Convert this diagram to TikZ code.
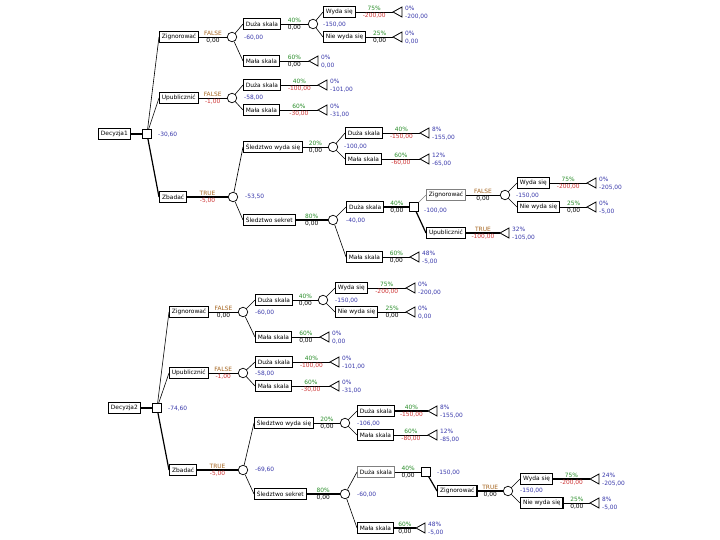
\documentclass[tikz,border=0pt]{standalone}
\usepackage{fontspec}
\newfontfamily\treefont{DejaVu Sans}
\definecolor{pgreen}{RGB}{40,140,40}
\definecolor{pred}{RGB}{205,50,50}
\definecolor{pbrown}{RGB}{165,100,30}
\definecolor{pblue}{RGB}{55,55,170}
\tikzset{
 f/.style={font=\treefont\fontsize{5.9}{7}\selectfont, inner sep=1pt},
 box/.style={f, draw, line width=.7pt, anchor=west, inner xsep=2.5pt, minimum height=10.5pt, fill=white},
 obox/.style={box, line width=1.2pt},
 gbox/.style={box, draw=gray},
 chance/.style={circle, draw, line width=.7pt, minimum size=9.5pt, inner sep=0pt, fill=white},
 dec/.style={rectangle, draw, line width=.8pt, minimum size=8.5pt, inner sep=0pt, fill=white},
 pc/.style={f, text=pgreen},
 neg/.style={f, text=pred},
 zer/.style={f, text=black},
 tf/.style={f, text=pbrown},
 ev/.style={f, text=pblue},
 evl/.style={ev, anchor=west},
 ln/.style={line width=.6pt},
 oln/.style={line width=1.2pt},
 gln/.style={line width=.45pt, gray},
 tri/.style={line width=.8pt},
}
\newcommand\brline[7]{\draw[#1] (#2) -- node[midway,above,#4] (#2-#3-a) {#5} node[midway,below,#6] (#2-#3-b) {#7} (#3);}
\newcommand\tmnode[5]{%
 \coordinate (#1) at (#2,#3);
 \draw[tri] (#1) -- ++(9,-5) -- ++(0,10) -- cycle;
 \node[ev,anchor=south west] (#1-a) at ([xshift=11pt,yshift=0.5pt]#1) {#4};
 \node[ev,anchor=north west] (#1-b) at ([xshift=11pt,yshift=-0.5pt]#1) {#5};}
\begin{document}
\begin{tikzpicture}[x=1pt,y=-1pt]
\useasboundingbox (0,0) rectangle (720,540);

% ================= TOP TREE =================
\node[box] (D1) at (98,134) {Decyzja1};
\node[dec] (S1) at (147,134) {};
\draw[oln] (D1) -- (S1);
\node[evl] (S1-v) at (157,135) {-30,60};

% Zignorowac
\node[box] (A) at (159,37) {Zignorować};
\draw[ln] (S1) -- (A.west);
\node[chance] (C1) at (232,37) {};
\brline{ln}{A}{C1}{tf}{FALSE}{zer}{0,00}
\node[evl] (C1-v) at (243,38) {-60,00};
\node[box] (A1) at (243,24) {Duża skala};
\node[box] (A2) at (243,61) {Mała skala};
\draw[ln] (C1) -- (A1.west);
\draw[ln] (C1) -- (A2.west);
\node[chance] (C2) at (313,24) {};
\brline{ln}{A1}{C2}{pc}{40\%}{zer}{0,00}
\node[evl] (C2-v) at (322,25) {-150,00};
\node[box] (A1a) at (323,12) {Wyda się};
\node[box] (A1b) at (323,37) {Nie wyda się};
\draw[ln] (C2) -- (A1a.west);
\draw[ln] (C2) -- (A1b.west);
\tmnode{T1}{393}{12}{0\%}{-200,00}
\brline{ln}{A1a}{T1}{pc}{75\%}{neg}{-200,00}
\tmnode{T2}{393}{37}{0\%}{0,00}
\brline{ln}{A1b}{T2}{pc}{25\%}{zer}{0,00}
\tmnode{T3}{309}{61}{0\%}{0,00}
\brline{ln}{A2}{T3}{pc}{60\%}{zer}{0,00}

% Upublicznic
\node[box] (B) at (159,98) {Upublicznić};
\draw[ln] (S1) -- (B.west);
\node[chance] (C3) at (232,98) {};
\brline{ln}{B}{C3}{tf}{FALSE}{neg}{-1,00}
\node[evl] (C3-v) at (243,98) {-58,00};
\node[box] (B1) at (243,85) {Duża skala};
\node[box] (B2) at (243,110) {Mała skala};
\draw[ln] (C3) -- (B1.west);
\draw[ln] (C3) -- (B2.west);
\tmnode{T4}{318}{85}{0\%}{-101,00}
\brline{ln}{B1}{T4}{pc}{40\%}{neg}{-100,00}
\tmnode{T5}{318}{110}{0\%}{-31,00}
\brline{ln}{B2}{T5}{pc}{60\%}{neg}{-30,00}

% Zbadac
\node[obox] (Z) at (159,197) {Zbadać};
\draw[oln] (S1) -- (Z.west);
\node[chance] (C4) at (233,197) {};
\brline{oln}{Z}{C4}{tf}{TRUE}{neg}{-5,00}
\node[evl] (C4-v) at (244,197) {-53,50};
\node[box] (Z1) at (243,147) {Śledztwo wyda się};
\node[box] (Z2) at (243,220) {Śledztwo sekret};
\draw[ln] (C4) -- (Z1.west);
\draw[ln] (C4) -- (Z2.west);

\node[chance] (C5) at (333,147) {};
\brline{ln}{Z1}{C5}{pc}{20\%}{zer}{0,00}
\node[evl] (C5-v) at (343,147) {-100,00};
\node[box] (Z1a) at (345,133) {Duża skala};
\node[box] (Z1b) at (345,159) {Mała skala};
\draw[ln] (C5) -- (Z1a.west);
\draw[ln] (C5) -- (Z1b.west);
\tmnode{T6}{420}{133}{8\%}{-155,00}
\brline{ln}{Z1a}{T6}{pc}{40\%}{neg}{-150,00}
\tmnode{T7}{420}{159}{12\%}{-65,00}
\brline{ln}{Z1b}{T7}{pc}{60\%}{neg}{-60,00}

\node[chance] (C6) at (333,220) {};
\brline{oln}{Z2}{C6}{pc}{80\%}{zer}{0,00}
\node[evl] (C6-v) at (345,221) {-40,00};
\node[obox] (Z2a) at (346,207) {Duża skala};
\node[box] (Z2b) at (346,257) {Mała skala};
\draw[ln] (C6) -- (Z2a.west);
\draw[ln] (C6) -- (Z2b.west);
\node[dec] (S2) at (414,207) {};
\brline{oln}{Z2a}{S2}{pc}{40\%}{zer}{0,00}
\node[evl] (S2-v) at (423,211) {-100,00};
\node[gbox] (Z2a1) at (426,195) {Zignorować};
\node[obox] (Z2a2) at (426,233) {Upublicznić};
\draw[gln] (S2) -- (Z2a1.west);
\draw[oln] (S2) -- (Z2a2.west);
\node[chance] (C7) at (505,195) {};
\brline{ln}{Z2a1}{C7}{tf}{FALSE}{zer}{0,00}
\node[evl] (C7-v) at (515,196) {-150,00};
\node[box] (Z2a1a) at (517,183) {Wyda się};
\node[box] (Z2a1b) at (517,207) {Nie wyda się};
\draw[ln] (C7) -- (Z2a1a.west);
\draw[ln] (C7) -- (Z2a1b.west);
\tmnode{T8}{587}{183}{0\%}{-205,00}
\brline{ln}{Z2a1a}{T8}{pc}{75\%}{neg}{-200,00}
\tmnode{T9}{587}{207}{0\%}{-5,00}
\brline{ln}{Z2a1b}{T9}{pc}{25\%}{zer}{0,00}
\tmnode{T10}{500}{233}{32\%}{-105,00}
\brline{oln}{Z2a2}{T10}{tf}{TRUE}{neg}{-100,00}
\tmnode{T11}{410}{257}{48\%}{-5,00}
\brline{ln}{Z2b}{T11}{pc}{60\%}{zer}{0,00}

% ================= BOTTOM TREE =================
\node[box] (D2) at (108,408) {Decyzja2};
\node[dec] (S3) at (157,408) {};
\draw[oln] (D2) -- (S3);
\node[evl] (S3-v) at (167,409) {-74,60};

\node[box] (E) at (169,312) {Zignorować};
\draw[ln] (S3) -- (E.west);
\node[chance] (C8) at (243,312) {};
\brline{ln}{E}{C8}{tf}{FALSE}{zer}{0,00}
\node[evl] (C8-v) at (254,313) {-60,00};
\node[box] (E1) at (255,300) {Duża skala};
\node[box] (E2) at (255,337) {Mała skala};
\draw[ln] (C8) -- (E1.west);
\draw[ln] (C8) -- (E2.west);
\node[chance] (C9) at (323,300) {};
\brline{ln}{E1}{C9}{pc}{40\%}{zer}{0,00}
\node[evl] (C9-v) at (334,301) {-150,00};
\node[box] (E1a) at (335,288) {Wyda się};
\node[box] (E1b) at (335,312) {Nie wyda się};
\draw[ln] (C9) -- (E1a.west);
\draw[ln] (C9) -- (E1b.west);
\tmnode{T12}{406}{288}{0\%}{-200,00}
\brline{ln}{E1a}{T12}{pc}{75\%}{neg}{-200,00}
\tmnode{T13}{406}{312}{0\%}{0,00}
\brline{ln}{E1b}{T13}{pc}{25\%}{zer}{0,00}
\tmnode{T14}{320}{337}{0\%}{0,00}
\brline{ln}{E2}{T14}{pc}{60\%}{zer}{0,00}

\node[box] (F) at (169,373) {Upublicznić};
\draw[ln] (S3) -- (F.west);
\node[chance] (C10) at (243,373) {};
\brline{ln}{F}{C10}{tf}{FALSE}{neg}{-1,00}
\node[evl] (C10-v) at (254,374) {-58,00};
\node[box] (F1) at (255,362) {Duża skala};
\node[box] (F2) at (255,386) {Mała skala};
\draw[ln] (C10) -- (F1.west);
\draw[ln] (C10) -- (F2.west);
\tmnode{T15}{330}{362}{0\%}{-101,00}
\brline{ln}{F1}{T15}{pc}{40\%}{neg}{-100,00}
\tmnode{T16}{330}{386}{0\%}{-31,00}
\brline{ln}{F2}{T16}{pc}{60\%}{neg}{-30,00}

\node[obox] (G) at (169,470) {Zbadać};
\draw[oln] (S3) -- (G.west);
\node[chance] (C11) at (243,470) {};
\brline{oln}{G}{C11}{tf}{TRUE}{neg}{-5,00}
\node[evl] (C11-v) at (254,470) {-69,60};
\node[box] (G1) at (254,423) {Śledztwo wyda się};
\node[box] (G2) at (254,494) {Śledztwo sekret};
\draw[ln] (C11) -- (G1.west);
\draw[ln] (C11) -- (G2.west);

\node[chance] (C12) at (345,423) {};
\brline{ln}{G1}{C12}{pc}{20\%}{zer}{0,00}
\node[evl] (C12-v) at (356,424) {-106,00};
\node[box] (G1a) at (357,411) {Duża skala};
\node[box] (G1b) at (357,435) {Mała skala};
\draw[ln] (C12) -- (G1a.west);
\draw[ln] (C12) -- (G1b.west);
\tmnode{T17}{428}{411}{8\%}{-155,00}
\brline{oln}{G1a}{T17}{pc}{40\%}{neg}{-150,00}
\tmnode{T18}{428}{435}{12\%}{-85,00}
\brline{ln}{G1b}{T18}{pc}{60\%}{neg}{-80,00}

\node[chance] (C13) at (345,494) {};
\brline{oln}{G2}{C13}{pc}{80\%}{zer}{0,00}
\node[evl] (C13-v) at (356,495) {-60,00};
\node[gbox] (G2a) at (357,472) {Duża skala};
\node[box] (G2b) at (357,528) {Mała skala};
\draw[ln] (C13) -- (G2a.west);
\draw[ln] (C13) -- (G2b.west);
\node[dec] (S4) at (426,472) {};
\brline{ln}{G2a}{S4}{pc}{40\%}{zer}{0,00}
\node[evl] (S4-v) at (436,473) {-150,00};
\node[obox] (G2a1) at (437,491) {Zignorować};
\draw[oln] (S4) -- (G2a1.west);
\node[chance] (C14) at (508,491) {};
\brline{oln}{G2a1}{C14}{tf}{TRUE}{zer}{0,00}
\node[evl] (C14-v) at (519,491) {-150,00};
\node[obox] (G2a1a) at (520,479) {Wyda się};
\node[obox] (G2a1b) at (520,503) {Nie wyda się};
\draw[ln] (C14) -- (G2a1a.west);
\draw[ln] (C14) -- (G2a1b.west);
\tmnode{T19}{590}{479}{24\%}{-205,00}
\brline{oln}{G2a1a}{T19}{pc}{75\%}{neg}{-200,00}
\tmnode{T20}{590}{503}{8\%}{-5,00}
\brline{ln}{G2a1b}{T20}{pc}{25\%}{zer}{0,00}
\tmnode{T21}{416}{528}{48\%}{-5,00}
\brline{oln}{G2b}{T21}{pc}{60\%}{zer}{0,00}
\end{tikzpicture}
\end{document}
